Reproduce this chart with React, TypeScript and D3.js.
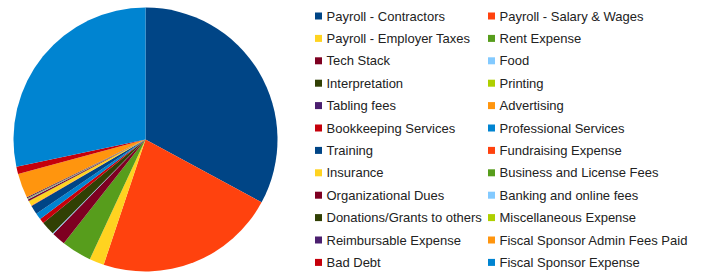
import React, { useEffect, useRef } from 'react';
import * as d3 from 'd3';

// expense categories, in legend order (read left column, right column, row by row)
const categories = [
  'Payroll - Contractors', 'Payroll - Salary & Wages',
  'Payroll - Employer Taxes', 'Rent Expense',
  'Tech Stack', 'Food',
  'Interpretation', 'Printing',
  'Tabling fees', 'Advertising',
  'Bookkeeping Services', 'Professional Services',
  'Training', 'Fundraising Expense',
  'Insurance', 'Business and License Fees',
  'Organizational Dues', 'Banking and online fees',
  'Donations/Grants to others', 'Miscellaneous Expense',
  'Reimbursable Expense', 'Fiscal Sponsor Admin Fees Paid',
  'Bad Debt', 'Fiscal Sponsor Expense',
];

// share of total (%)
const shares = [
  33.0, 22.3,
  1.8, 3.7,
  1.7, 0.1,
  1.7, 0,
  0, 0,
  0.6, 0.8,
  1.1, 0.05,
  0.6, 0.05,
  0.2, 0.05,
  0.05, 0.05,
  0.15, 3.0,
  0.9, 28.4,
];

const palette = [
  '#004586', '#ff420e', '#ffd320', '#579d1c', '#7e0021', '#83caff',
  '#314004', '#aecf00', '#4b1f6f', '#ff950e', '#c5000b', '#0084d1',
];

export default function App() {
  const ref = useRef<SVGSVGElement>(null);

  useEffect(() => {
    const svg = d3.select(ref.current);
    svg.selectAll('*').remove();

    const data = categories.map((name, i) => ({ name, value: shares[i] }));
    const color = d3.scaleOrdinal<string, string>().domain(categories).range(palette);

    const pie = d3.pie<any>().sort(null).value(d => d.value);
    const arc = d3.arc<any>().innerRadius(0).outerRadius(132);

    const g = svg.append('g').attr('transform', 'translate(145.5,139.5)');
    g.selectAll('path')
      .data(pie(data))
      .enter().append('path')
      .attr('d', arc)
      .attr('fill', d => color(d.data.name));

    // legend: two columns
    const rowY = d3.scaleLinear().domain([0, 1]).range([16, 38.4]);
    const colX = [315, 488];

    const items = svg.append('g').selectAll('g')
      .data(data)
      .enter().append('g')
      .attr('transform', (d, i) => `translate(${colX[i % 2]},${rowY(Math.floor(i / 2))})`);

    items.append('rect')
      .attr('x', 0).attr('y', -3.5)
      .attr('width', 7).attr('height', 7)
      .attr('fill', d => color(d.name));

    items.append('text')
      .attr('x', 11.5).attr('y', 0)
      .attr('dy', '0.36em')
      .attr('font-family', 'Liberation Sans, Arial, sans-serif')
      .attr('font-size', 13)
      .attr('fill', '#222')
      .text(d => d.name);
  }, []);

  return (
    <svg ref={ref} width={709} height={272}
      style={{ position: 'absolute', left: 0, top: 0, background: '#fff' }} />
  );
}
